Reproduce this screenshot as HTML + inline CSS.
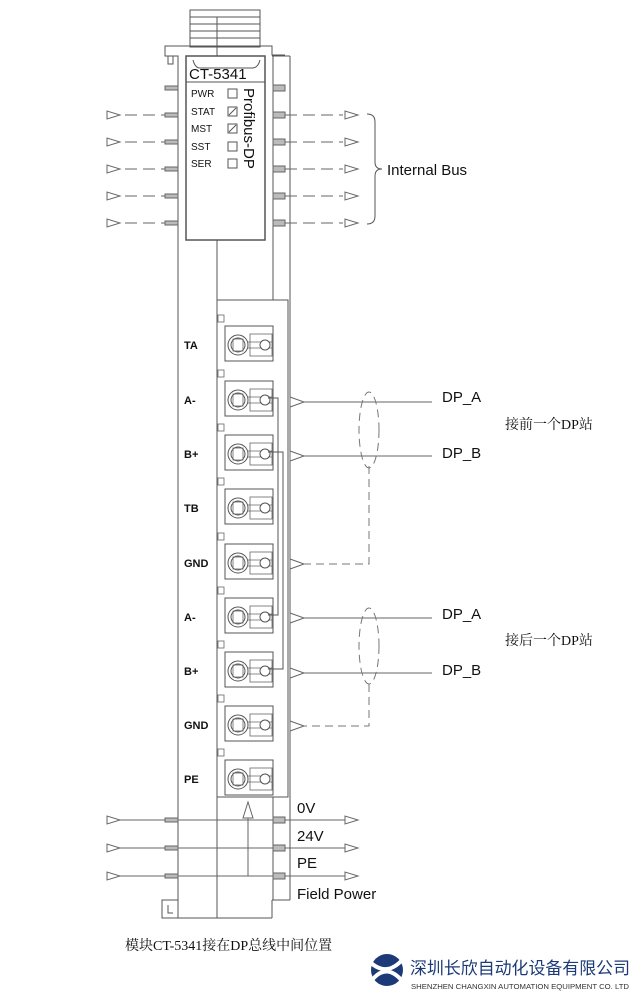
<!DOCTYPE html>
<html><head><meta charset="utf-8"><style>
html,body{margin:0;padding:0;background:#fff;width:640px;height:997px;overflow:hidden}
svg{display:block}
text{font-family:"Liberation Sans",sans-serif;fill:#111}
.c{font-family:"Liberation Serif","Noto Serif CJK SC",serif}
</style></head><body>
<svg width="640" height="997" viewBox="0 0 640 997" xmlns="http://www.w3.org/2000/svg">
<defs>
<g id="tb">
<rect x="225" y="-19" width="48" height="35" fill="none" stroke="#555" stroke-width="1"/>
<circle cx="238" cy="0" r="10" fill="none" stroke="#555"/>
<circle cx="238" cy="0" r="7" fill="none" stroke="#555"/>
<rect x="233" y="-6" width="10" height="12" fill="none" stroke="#666" stroke-width="0.8"/>
<rect x="250" y="-11" width="22" height="22" fill="none" stroke="#666" stroke-width="0.8"/>
<line x1="248" y1="-3" x2="272" y2="-3" stroke="#666" stroke-width="0.8"/>
<line x1="248" y1="3" x2="272" y2="3" stroke="#666" stroke-width="0.8"/>
<circle cx="265" cy="0" r="5" fill="#fff" stroke="#555"/>
<rect x="218" y="-30" width="6" height="7" fill="none" stroke="#666" stroke-width="0.8"/>
</g>
</defs>
<g fill="none" stroke="#555" stroke-width="1">
<rect x="190" y="10" width="70" height="37"/>
<line x1="190" y1="17" x2="260" y2="17"/><line x1="190" y1="24" x2="260" y2="24"/><line x1="190" y1="31" x2="260" y2="31"/><line x1="190" y1="38" x2="260" y2="38"/>
<path d="M178 918 V56 H165 V46 H272 V55 H285"/>
<path d="M168 56 V64 H173 V56"/>
<path d="M178 900 H162 V918 H178 M168 905 V913 H173"/>
<line x1="178" y1="918" x2="272" y2="918"/>
<line x1="272" y1="918" x2="272" y2="900"/>
<line x1="272" y1="900" x2="290" y2="900"/>
<line x1="290" y1="56" x2="290" y2="900"/>
<line x1="272" y1="56" x2="290" y2="56"/>
<line x1="273" y1="56" x2="273" y2="300"/>
<line x1="273" y1="797" x2="273" y2="900"/>
<line x1="217" y1="17" x2="217" y2="56"/>
<line x1="217" y1="240" x2="217" y2="918"/>
<rect x="186" y="56" width="79" height="184" stroke-width="1.5"/>
<path d="M193 60 Q195 68 200 68 H252 Q258 68 260 60"/>
<line x1="186" y1="82" x2="265" y2="82"/>
<rect x="217" y="300" width="71" height="497"/>
<rect x="228" y="89" width="9" height="9"/>
<rect x="228" y="107" width="9" height="9"/>
<line x1="229" y1="115" x2="236" y2="108"/>
<rect x="228" y="124" width="9" height="9"/>
<line x1="229" y1="132" x2="236" y2="125"/>
<rect x="228" y="142" width="9" height="9"/>
<rect x="228" y="159" width="9" height="9"/>
</g>
<text x="189" y="79" font-size="15">CT-5341</text>
<g font-size="10"><text x="191" y="97">PWR</text><text x="191" y="115">STAT</text><text x="191" y="132">MST</text><text x="191" y="150">SST</text><text x="191" y="167">SER</text></g>
<text x="0" y="0" font-size="15" transform="translate(244 88) rotate(90)">Profibus-DP</text>
<g stroke="#666" fill="#fff">
<g id="bus">
<polygon points="107,111 107,119 120,115"/>
<line x1="125" y1="115" x2="178" y2="115" stroke-dasharray="12 6"/>
<rect x="165" y="113" width="13" height="4" fill="#bbb"/>
<rect x="273" y="112" width="12" height="6" fill="#bbb"/>
<line x1="285" y1="115" x2="343" y2="115" stroke-dasharray="12 6"/>
<polygon points="345,111 345,119 358,115"/>
</g>
<use href="#bus" y="27"/><use href="#bus" y="54"/><use href="#bus" y="81"/><use href="#bus" y="108"/>
<rect x="165" y="86" width="13" height="4" fill="#bbb"/>
<rect x="273" y="85" width="12" height="6" fill="#bbb"/>
</g>
<path d="M367 114 Q375 114 375 122 V162 Q375 169 382 169 Q375 169 375 176 V216 Q375 224 367 224" fill="none" stroke="#555"/>
<text x="387" y="175" font-size="15">Internal Bus</text>
<use href="#tb" y="345"/><use href="#tb" y="400"/><use href="#tb" y="454"/><use href="#tb" y="508"/><use href="#tb" y="563"/><use href="#tb" y="617"/><use href="#tb" y="671"/><use href="#tb" y="725"/><use href="#tb" y="779"/>
<g font-size="11" font-weight="bold"><text x="184" y="349">TA</text><text x="184" y="404">A-</text><text x="184" y="458">B+</text><text x="184" y="512">TB</text><text x="184" y="567">GND</text><text x="184" y="621">A-</text><text x="184" y="675">B+</text><text x="184" y="729">GND</text><text x="184" y="783">PE</text></g>
<path d="M268 398 H278 V615 H268" fill="none" stroke="#555"/>
<path d="M268 452 H283 V669 H268" fill="none" stroke="#555"/>
<g stroke="#666" fill="#fff">
<line x1="290" y1="402" x2="432" y2="402"/><polygon points="290,397 290,407 304,402"/>
<line x1="290" y1="456" x2="432" y2="456"/><polygon points="290,451 290,461 304,456"/>
<line x1="290" y1="618" x2="432" y2="618"/><polygon points="290,613 290,623 304,618"/>
<line x1="290" y1="673" x2="432" y2="673"/><polygon points="290,668 290,678 304,673"/>
<polygon points="290,559 290,569 304,564"/><polygon points="290,721 290,731 304,726"/>
</g>
<g fill="none" stroke="#777" stroke-dasharray="8 5">
<ellipse cx="369" cy="430" rx="10" ry="38"/>
<ellipse cx="369" cy="646" rx="10" ry="38"/>
<path d="M369 466 V564 H304"/>
<path d="M369 684 V726 H304"/>
</g>
<g font-size="15"><text x="442" y="402">DP_A</text><text x="442" y="458">DP_B</text><text x="442" y="619">DP_A</text><text x="442" y="675">DP_B</text></g>
<text class="c" x="505" y="429" font-size="14">接前一个DP站</text>
<text class="c" x="505" y="645" font-size="14">接后一个DP站</text>
<g stroke="#666" fill="#fff">
<g id="pw">
<polygon points="107,816 107,824 120,820"/>
<line x1="120" y1="820" x2="345" y2="820"/>
<rect x="165" y="818" width="13" height="4" fill="#bbb"/>
<rect x="273" y="817" width="12" height="6" fill="#bbb"/>
<polygon points="345,816 345,824 358,820"/>
</g>
<use href="#pw" y="28"/><use href="#pw" y="56"/>
<line x1="248" y1="876" x2="248" y2="802"/>
<polygon points="243,818 253,818 248,802"/>
</g>
<g font-size="15"><text x="297" y="813">0V</text><text x="297" y="841">24V</text><text x="297" y="868">PE</text><text x="297" y="899">Field Power</text></g>
<text class="c" x="125" y="950" font-size="14">模块CT-5341接在DP总线中间位置</text>
<circle cx="387" cy="970" r="16" fill="#1d3a78"/>
<path d="M370 962 Q387 978 404 958 M372 980 Q387 962 403 982" stroke="#fff" stroke-width="4" fill="none"/>
<text x="410" y="974" font-size="17" textLength="220" lengthAdjust="spacingAndGlyphs" style="fill:#1d3a78;font-family:'Noto Sans CJK SC',sans-serif">深圳长欣自动化设备有限公司</text>
<text x="411" y="989" font-size="7" textLength="218" lengthAdjust="spacingAndGlyphs" style="fill:#333">SHENZHEN CHANGXIN AUTOMATION EQUIPMENT CO. LTD</text>
</svg>
</body></html>
